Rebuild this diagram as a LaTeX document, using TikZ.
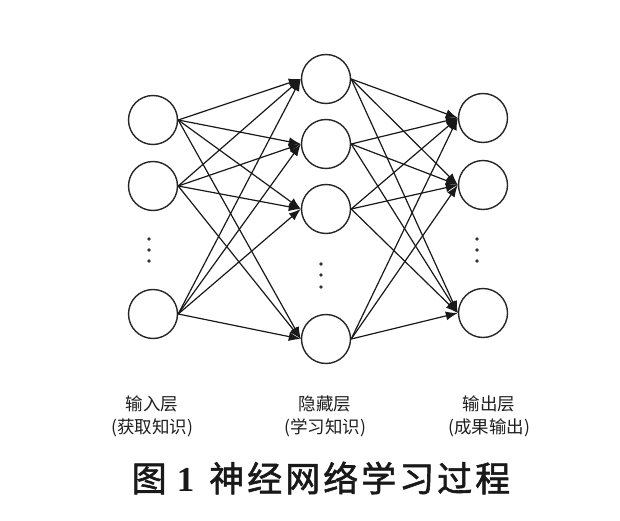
\documentclass[tikz,border=0pt]{standalone}
\usepackage{fontspec}
\usetikzlibrary{arrows.meta}
\newfontfamily\cjk{Noto Sans CJK SC}
\newfontfamily\cjktitle[FakeBold=1.6]{Noto Sans CJK SC}
\newfontfamily\titleserif{Liberation Serif}
\begin{document}
\begin{tikzpicture}[x=1pt,y=-1pt,
  neuron/.style={circle,draw=black!85,line width=1.4pt,minimum size=49pt,inner sep=0pt},
  conn/.style={draw=black!90,line width=1.2pt,-{Latex[length=12pt,width=9pt]}},
  vdot/.style={circle,fill=black!80,inner sep=0pt,minimum size=3.8pt},
  lbl/.style={font=\cjk\fontsize{17.5}{23}\selectfont,text=black!88,align=center},
]
\useasboundingbox (0,0) rectangle (620,521);
\fill[white] (0,0) rectangle (620,521);
% input layer
\node[neuron] (i1) at (153,120) {};
\node[neuron] (i2) at (153,186) {};
\node[neuron] (i3) at (153,314) {};
% hidden layer
\node[neuron] (h1) at (326,79) {};
\node[neuron] (h2) at (326,144) {};
\node[neuron] (h3) at (326,209) {};
\node[neuron] (h4) at (326,339) {};
% output layer
\node[neuron] (o1) at (483,118) {};
\node[neuron] (o2) at (483,185) {};
\node[neuron] (o3) at (483,313) {};
% dots
\foreach \y [count=\k] in {239,250,261} \node[vdot] (di\k) at (149,\y) {};
\foreach \y [count=\k] in {264,275,287} \node[vdot] (dh\k) at (321,\y) {};
\foreach \y [count=\k] in {239,250,261} \node[vdot] (do\k) at (477,\y) {};
% connections
\foreach \a in {i1,i2,i3} \foreach \b in {h1,h2,h3,h4} \draw[conn] (\a.east) -- (\b.west);
\foreach \a in {h1,h2,h3,h4} \foreach \b in {o1,o2,o3} \draw[conn] (\a.east) -- (\b.west);
% labels
\node[lbl] (li) at (152,416) {输入层\\(获取知识)};
\node[lbl] (lh) at (325,416) {隐藏层\\(学习知识)};
\node[lbl] (lo) at (489,416) {输出层\\(成果输出)};
% title
\node[text=black!90,inner sep=0pt] (title) at (321,478) {\cjktitle\fontsize{35}{40}\selectfont 图\hspace{10pt}{\titleserif\bfseries 1}\hspace{15pt}神\hspace{3pt}经\hspace{3pt}网\hspace{3pt}络\hspace{3pt}学\hspace{3pt}习\hspace{3pt}过\hspace{3pt}程};
\end{tikzpicture}
\end{document}
